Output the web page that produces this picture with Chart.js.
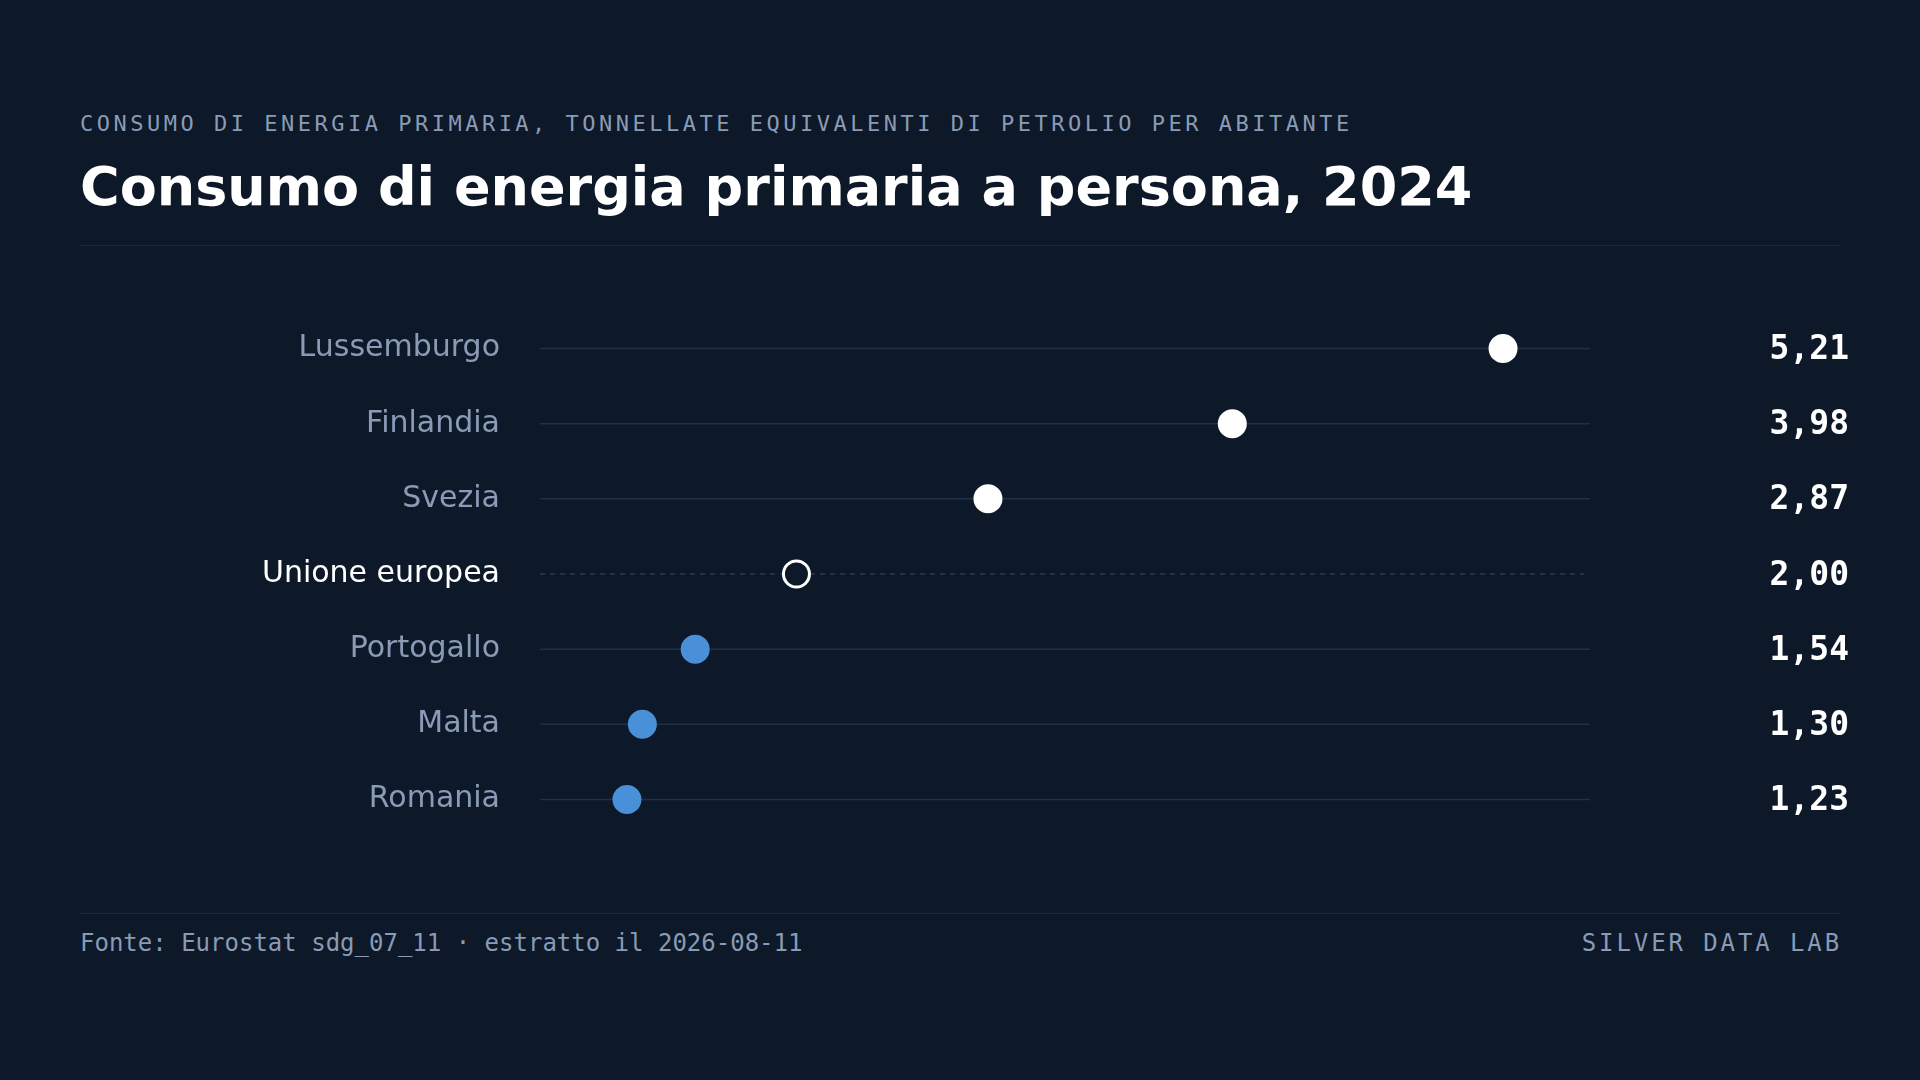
<!DOCTYPE html>
<html><head><meta charset="utf-8">
<script src="https://cdn.jsdelivr.net/npm/chart.js@4"></script>
<style>
html,body{margin:0;padding:0;background:#0d1828;width:1920px;height:1080px;overflow:hidden;font-family:"DejaVu Sans",sans-serif}
#wrap{position:absolute;left:0;top:0;width:1920px;height:1080px}
.sub{position:absolute;left:80px;top:111px;font-family:"DejaVu Sans Mono",monospace;font-size:22px;letter-spacing:3.5px;color:#8a9bb5}
.title{position:absolute;left:80px;top:155px;font-size:54px;font-weight:bold;color:#ffffff}
.rule{position:absolute;left:80px;width:1760px;height:1px;background:#1c2a3e}
.foot{position:absolute;top:929px;font-family:"DejaVu Sans Mono",monospace;font-size:24px;color:#8a9bb5}
</style></head><body>
<div class="sub">CONSUMO DI ENERGIA PRIMARIA, TONNELLATE EQUIVALENTI DI PETROLIO PER ABITANTE</div>
<div class="title">Consumo di energia primaria a persona, 2024</div>
<div class="rule" style="top:245px"></div>
<div class="rule" style="top:913px"></div>
<div class="foot" style="left:80px">Fonte: Eurostat sdg_07_11 · estratto il 2026-08-11</div>
<div class="foot" style="right:78px;letter-spacing:2.9px">SILVER DATA LAB</div>
<div id="wrap"><canvas id="c" width="1920" height="1080"></canvas></div>
<script>
const countries=["Lussemburgo","Finlandia","Svezia","Unione europea","Portogallo","Malta","Romania"];
const values=[5.21,3.98,2.87,2.00,1.54,1.30,1.23];
const valueLabels=["5,21","3,98","2,87","2,00","1,54","1,30","1,23"];
const euLabel="Unione europea";
const BG="#0d1828";
const fill=countries.map((c,i)=>c===euLabel?BG:(values[i]>2?"#ffffff":"#4a90d9"));
const border=countries.map((c,i)=>c===euLabel?"#ffffff":fill[i]);
const rowsPlugin={id:"rows",
 beforeDatasetsDraw(ch){const ctx=ch.ctx,x=ch.scales.x,y=ch.scales.y,a=ch.chartArea;
  countries.forEach((c,i)=>{const py=y.getPixelForValue(i);
   ctx.save();ctx.strokeStyle=c===euLabel?"#2a3a52":"#1f3049";ctx.lineWidth=1.5;
   if(c===euLabel)ctx.setLineDash([5,5]);
   ctx.beginPath();ctx.moveTo(a.left,py);ctx.lineTo(c===euLabel?a.right-6:a.right,py);ctx.stroke();ctx.restore();
   ctx.save();ctx.font='30px "DejaVu Sans"';ctx.textAlign="right";ctx.textBaseline="middle";
   ctx.fillStyle=c===euLabel?"#ffffff":"#8a9bb5";ctx.fillText(c,500,py);
   ctx.font='bold 33px "DejaVu Sans Mono"';ctx.fillStyle="#ffffff";ctx.fillText(valueLabels[i],1849,py+2);ctx.restore();});
 }};
new Chart(document.getElementById("c"),{type:"scatter",
 data:{labels:countries,datasets:[{data:values.map((v,i)=>({x:v,y:countries[i]})),
  pointRadius:13,pointHoverRadius:13,pointBackgroundColor:fill,pointBorderColor:border,pointBorderWidth:3}]},
 options:{responsive:false,animation:false,events:[],
  layout:{padding:{left:540,right:330,top:311,bottom:243}},
  plugins:{legend:{display:false},tooltip:{enabled:false}},
  scales:{x:{type:"linear",min:0.835,max:5.605,display:false},
   y:{type:"category",labels:countries,offset:true,display:false}}},
 plugins:[rowsPlugin]});
</script></body></html>
